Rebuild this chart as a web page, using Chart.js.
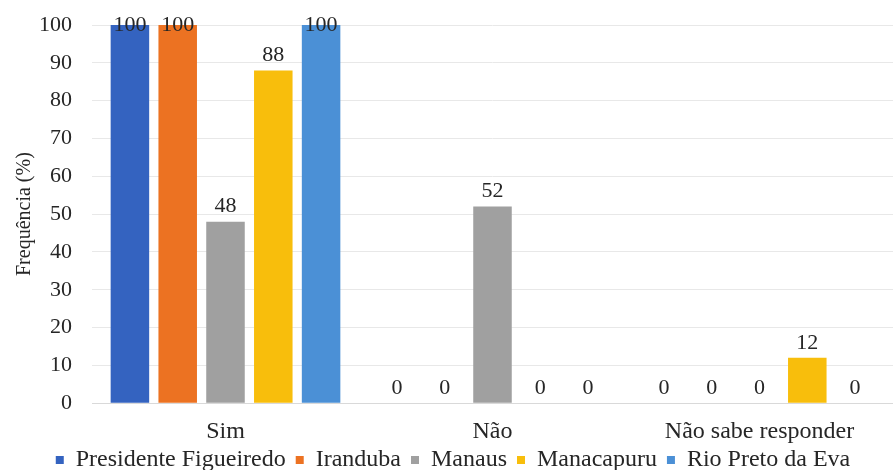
<!DOCTYPE html>
<html>
<head>
<meta charset="utf-8">
<script src="https://cdn.jsdelivr.net/npm/chart.js@4"></script>
<style>
  html, body { margin: 0; padding: 0; background: #fff; }
  #wrap { width: 893px; height: 470px; }
</style>
</head>
<body>
<div id="wrap"><canvas id="myChart" width="893" height="470"></canvas></div>
<script>
var categories = ["Sim", "Não", "Não sabe responder"];
var presidenteFigueiredo = [100, 0, 0];
var iranduba = [100, 0, 0];
var manaus = [48, 52, 0];
var manacapuru = [88, 0, 12];
var rioPretoDaEva = [100, 0, 0];
var yTicks = [0, 10, 20, 30, 40, 50, 60, 70, 80, 90, 100];

var serif = "'Liberation Serif', 'Times New Roman', serif";

// value above every bar (kept inside the plot like Excel does)
var valueLabels = {
  id: "valueLabels",
  afterDatasetsDraw: function (chart) {
    var ctx = chart.ctx;
    ctx.save();
    ctx.font = "22px " + serif;
    ctx.fillStyle = "#262626";
    ctx.textAlign = "center";
    ctx.textBaseline = "middle";
    chart.data.datasets.forEach(function (ds, i) {
      var meta = chart.getDatasetMeta(i);
      meta.data.forEach(function (bar, j) {
        var y = Math.max(bar.y - 15, chart.chartArea.top);
        ctx.fillText(ds.data[j], bar.x, y);
      });
    });
    ctx.restore();
  }
};

// legend sits closer to the category labels than chart.js puts it
var legendShift = {
  id: "legendShift",
  afterLayout: function (chart) {
    chart.legend.top -= 22;
    chart.legend.bottom -= 22;
  }
};

function makeSet(label, data, color) {
  return {
    label: label,
    data: data,
    backgroundColor: color,
    borderColor: color,
    borderWidth: 0
  };
}

var ctx = document.getElementById("myChart").getContext("2d");
var chart = new Chart(ctx, {
  type: "bar",
  data: {
    labels: categories,
    datasets: [
      makeSet("Presidente Figueiredo", presidenteFigueiredo, "#3463c0"),
      makeSet("Iranduba", iranduba, "#ec7222"),
      makeSet("Manaus", manaus, "#a0a0a0"),
      makeSet("Manacapuru", manacapuru, "#f8be0c"),
      makeSet("Rio Preto da Eva", rioPretoDaEva, "#4b90d6")
    ]
  },
  options: {
    responsive: false,
    animation: false,
    layout: { padding: { top: 25, right: 0, left: 13, bottom: -34 } },
    datasets: {
      bar: { categoryPercentage: 0.895, barPercentage: 0.806 }
    },
    plugins: {
      legend: {
        position: "bottom",
        labels: {
          font: { family: serif, size: 24 },
          color: "#262626",
          usePointStyle: true,
          pointStyle: "rect",
          boxWidth: 8,
          boxHeight: 8,
          padding: 10
        }
      },
      tooltip: { enabled: false }
    },
    scales: {
      x: {
        grid: { display: false, drawTicks: false },
        border: { color: "#d9d9d9" },
        ticks: { font: { family: serif, size: 24 }, color: "#262626", padding: 14 }
      },
      y: {
        min: 0,
        max: 100,
        afterBuildTicks: function (axis) {
          axis.ticks = yTicks.map(function (v) { return { value: v }; });
        },
        afterFit: function (scale) {
          scale.paddingTop = 0;
          scale.paddingBottom = 0;
        },
        grid: { color: "#e8e8e8", drawTicks: false },
        border: { display: false },
        ticks: { font: { family: serif, size: 22 }, color: "#262626", padding: 20 },
        title: {
          display: true,
          text: "Frequência (%)",
          font: { family: serif, size: 20 },
          color: "#262626",
          padding: { top: 0, bottom: -18 }
        }
      }
    }
  },
  plugins: [valueLabels, legendShift]
});
</script>
</body>
</html>
